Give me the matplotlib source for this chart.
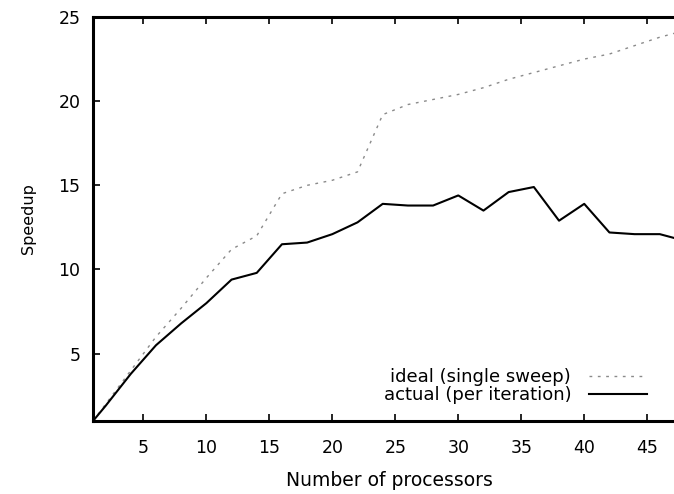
import matplotlib
matplotlib.use("Agg")
import matplotlib.pyplot as plt

procs = [1, 2, 4, 6, 8, 10, 12, 14, 16, 18, 20, 22, 24, 26, 28, 30, 32, 34, 36, 38, 40, 42, 44, 46, 48]
ideal = [1, 2, 4, 6, 7.7, 9.5, 11.2, 12.0, 14.5, 15.0, 15.3, 15.8, 19.2, 19.8, 20.1, 20.4,
         20.8, 21.3, 21.7, 22.1, 22.5, 22.8, 23.3, 23.8, 24.2]
actual = [1, 1.9, 3.8, 5.5, 6.8, 8.0, 9.4, 9.8, 11.5, 11.6, 12.1, 12.8, 13.9, 13.8, 13.8, 14.4,
          13.5, 14.6, 14.9, 12.9, 13.9, 12.2, 12.1, 12.1, 11.7]
xticks = [5, 10, 15, 20, 25, 30, 35, 40, 45]
yticks = [5, 10, 15, 20, 25]

plt.rcParams['font.family'] = ['DejaVu Sans']
fig = plt.figure(figsize=(6.74, 4.94), dpi=100)
# axes extends past right edge (cropped like the reference)
ax = fig.add_axes([93/674, 1 - 421/494, 592/674, (421-17)/494])

ax.plot(procs, ideal, color='#8a8a8a', lw=1.0, linestyle=(0, (2, 4)), label='ideal (single sweep)')
ax.plot(procs, actual, color='black', lw=1.5, label='actual (per iteration)')

ax.set_xlim(1, 48)
ax.set_ylim(1, 25)
ax.set_xticks(xticks)
ax.set_yticks(yticks)
ax.tick_params(direction='in', length=5, width=1.2, labelsize=12.5, top=True, right=False)
ax.tick_params(axis='x', pad=13)
ax.tick_params(axis='y', pad=9)
for s in ax.spines.values():
    s.set_linewidth(2.2)

ax.set_xlabel('Number of processors', fontsize=13.5, labelpad=10)
ax.set_ylabel('Speedup', fontsize=11.5, labelpad=16)

leg = fig.legend(loc='lower right', bbox_to_anchor=(656/674, 1 - 413/494), frameon=False,
                 markerfirst=False, fontsize=13, handlelength=3.2, labelspacing=0.0,
                 handletextpad=1.0, borderpad=0)
for t in leg.get_texts():
    t.set_ha('right')

fig.savefig('out.png', dpi=100)
